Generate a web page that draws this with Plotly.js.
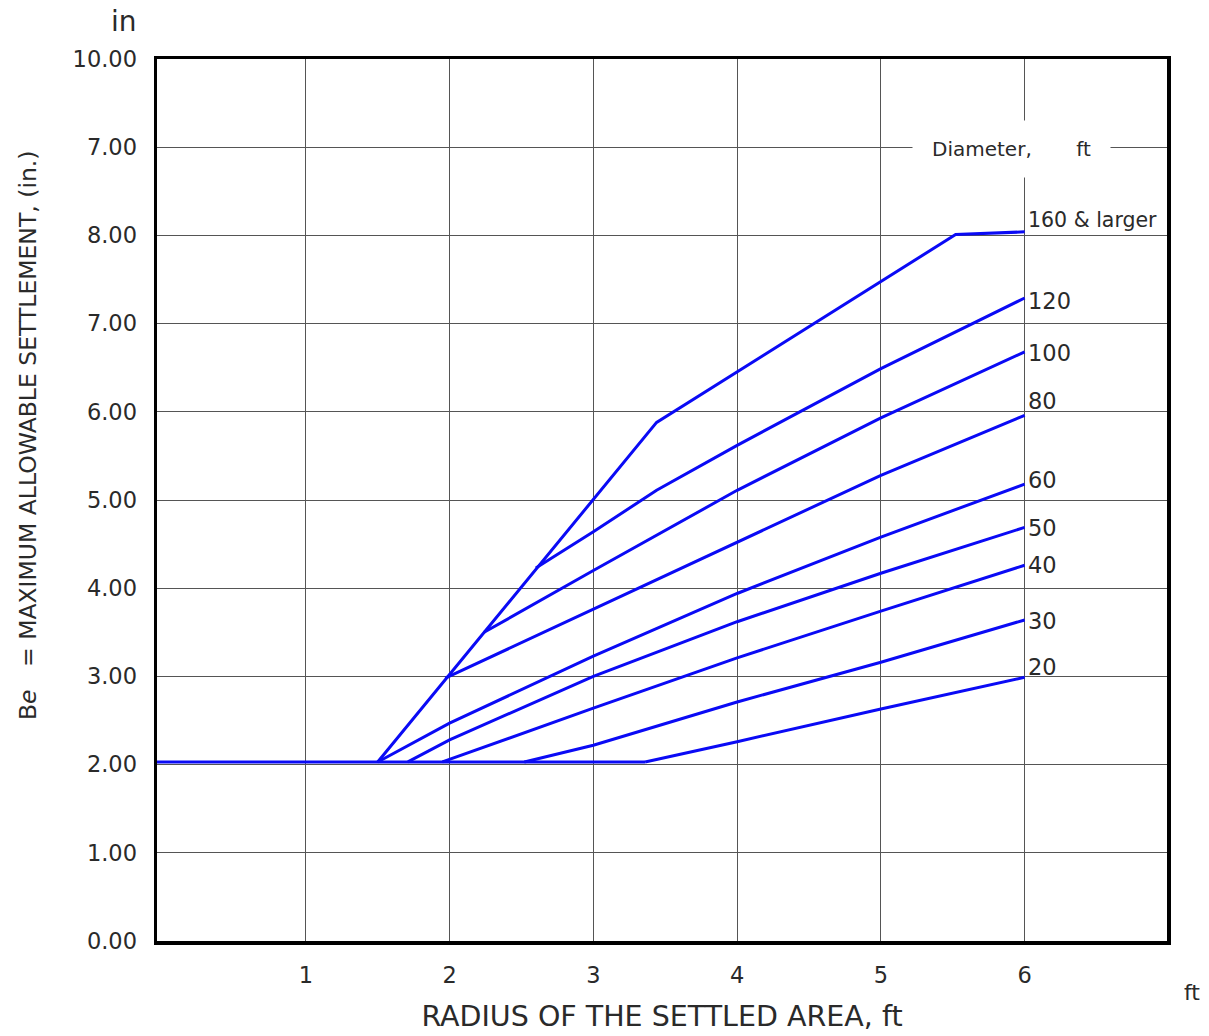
<!DOCTYPE html>
<html>
<head>
<meta charset="utf-8">
<script src="https://cdn.plot.ly/plotly-3.0.1.min.js"></script>
<style>
  html, body { margin: 0; padding: 0; background: #ffffff; }
  #chart { width: 1209px; height: 1036px; }
</style>
</head>
<body>
<div id="chart"></div>
<script>
// ---- Data ----
// Radius of the settled area (ft) and maximum allowable settlement (in.)
const baseX = [-0.035, 3.36];
const baseY = [2.03, 2.03];

const x160 = [1.50, 3.44, 5.52, 6.00];
const y160 = [2.03, 5.88, 8.01, 8.04];

const x120 = [2.60, 3.00, 3.44, 4.00, 5.00, 6.00];
const y120 = [4.23, 4.64, 5.11, 5.62, 6.49, 7.29];

const x100 = [2.24, 3.00, 4.00, 5.00, 6.00];
const y100 = [3.50, 4.20, 5.11, 5.93, 6.68];

const x80 = [1.97, 3.00, 4.00, 5.00, 6.00];
const y80 = [2.98, 3.76, 4.52, 5.28, 5.96];

const x60 = [1.50, 2.00, 3.00, 4.00, 5.00, 6.00];
const y60 = [2.03, 2.47, 3.23, 3.94, 4.58, 5.18];

const x50 = [1.71, 2.00, 3.00, 4.00, 5.00, 6.00];
const y50 = [2.03, 2.28, 3.00, 3.62, 4.17, 4.69];

const x40 = [1.95, 3.00, 4.00, 5.00, 6.00];
const y40 = [2.03, 2.64, 3.21, 3.74, 4.26];

const x30 = [2.52, 3.00, 4.00, 5.00, 6.00];
const y30 = [2.03, 2.22, 2.71, 3.16, 3.64];

const x20 = [3.36, 4.00, 5.00, 6.00];
const y20 = [2.03, 2.26, 2.63, 2.99];

const seriesNames = ['160 & larger', '120', '100', '80', '60', '50', '40', '30', '20'];
const seriesX = [x160, x120, x100, x80, x60, x50, x40, x30, x20];
const seriesY = [y160, y120, y100, y80, y60, y50, y40, y30, y20];

const xTickVals = [1, 2, 3, 4, 5, 6];
const xTickText = ['1', '2', '3', '4', '5', '6'];
const yTickVals = [0, 1, 2, 3, 4, 5, 6, 7, 8, 9, 10];
const yTickText = ['0.00', '1.00', '2.00', '3.00', '4.00', '5.00', '6.00', '7.00', '8.00', '7.00', '10.00'];

const xTitle = 'RADIUS OF THE SETTLED AREA, ft';
const yTitle = 'B<i>e</i>&nbsp;&nbsp; = MAXIMUM ALLOWABLE SETTLEMENT, (in.)';
const legendTitle = 'Diameter,&nbsp;&nbsp;&nbsp;&nbsp;&nbsp;&nbsp; ft';
const yUnit = 'in';
const xUnit = 'ft';

// ---- Styling and placement (kept separate from data) ----
const FONT = 'DejaVu Sans, Verdana, sans-serif';
const TEXT = '#2a2a2a';
const LINE_COLOR = '#0a0af5';
const labelShift = [12, -3, -1, 14, 4, -1, 0, -1, 10];
const labelSize = [20.5, 22.5, 22.5, 22.5, 22.5, 22.5, 22.5, 22.5, 22.5];

const W = 1209, H = 1036, ML = 157, MR = 42, MT = 59, MB = 95;
const PW = W - ML - MR, PH = H - MT - MB;
const px = v => (v - ML) / PW;
const py = v => 1 - (v - MT) / PH;

const traces = [{
  x: baseX, y: baseY, type: 'scatter', mode: 'lines',
  line: { color: LINE_COLOR, width: 3 }, hoverinfo: 'skip', showlegend: false
}];
seriesNames.forEach((n, i) => {
  traces.push({
    x: seriesX[i], y: seriesY[i], type: 'scatter', mode: 'lines', name: n,
    line: { color: LINE_COLOR, width: 3 }, hoverinfo: 'skip', showlegend: false
  });
});

const annotations = seriesNames.map((n, i) => ({
  x: seriesX[i][seriesX[i].length - 1],
  y: seriesY[i][seriesY[i].length - 1],
  xref: 'x', yref: 'y', text: n, showarrow: false,
  xanchor: 'left', yanchor: 'middle', xshift: 1, yshift: labelShift[i],
  font: { family: FONT, size: labelSize[i], color: TEXT }
}));

annotations.push({
  x: px(1011), y: py(149), xref: 'paper', yref: 'paper',
  text: legendTitle, showarrow: false, xanchor: 'center', yanchor: 'middle',
  bgcolor: '#ffffff', width: 195, height: 54,
  font: { family: FONT, size: 20, color: TEXT }
});
annotations.push({
  x: px(124), y: py(21), xref: 'paper', yref: 'paper', text: yUnit, showarrow: false,
  xanchor: 'center', yanchor: 'middle',
  font: { family: FONT, size: 28, color: TEXT }
});
annotations.push({
  x: px(1192), y: py(993), xref: 'paper', yref: 'paper', text: xUnit, showarrow: false,
  xanchor: 'center', yanchor: 'middle',
  font: { family: FONT, size: 22, color: TEXT }
});
annotations.push({
  x: px(28), y: py(436), xref: 'paper', yref: 'paper', text: yTitle,
  showarrow: false, textangle: -90, xanchor: 'center', yanchor: 'middle',
  font: { family: FONT, size: 23.5, color: TEXT }
});

const layout = {
  width: W, height: H,
  margin: { l: ML, r: MR, t: MT, b: MB, pad: 0 },
  paper_bgcolor: '#ffffff', plot_bgcolor: '#ffffff',
  font: { family: FONT, color: TEXT },
  showlegend: false,
  xaxis: {
    range: [-0.035, 6.99], tickmode: 'array', tickvals: xTickVals, ticktext: xTickText,
    showgrid: true, gridcolor: '#555555', gridwidth: 1, zeroline: false,
    showline: true, mirror: true, linecolor: '#000000', linewidth: 3.5,
    ticks: 'outside', ticklen: 11, tickcolor: 'rgba(0,0,0,0)',
    tickfont: { family: FONT, size: 22.5, color: TEXT },
    title: { text: xTitle, standoff: 20,
             font: { family: FONT, size: 28.5, color: TEXT } },
    automargin: false, fixedrange: true
  },
  yaxis: {
    range: [0, 10], tickmode: 'array', tickvals: yTickVals, ticktext: yTickText,
    showgrid: true, gridcolor: '#555555', gridwidth: 1, zeroline: false,
    showline: true, mirror: true, linecolor: '#000000', linewidth: 3.5,
    ticks: 'outside', ticklen: 12, tickcolor: 'rgba(0,0,0,0)',
    tickfont: { family: FONT, size: 22.5, color: TEXT },
    automargin: false, fixedrange: true
  },
  annotations: annotations
};

Plotly.newPlot('chart', traces, layout, { displayModeBar: false, staticPlot: true });
</script>
</body>
</html>
